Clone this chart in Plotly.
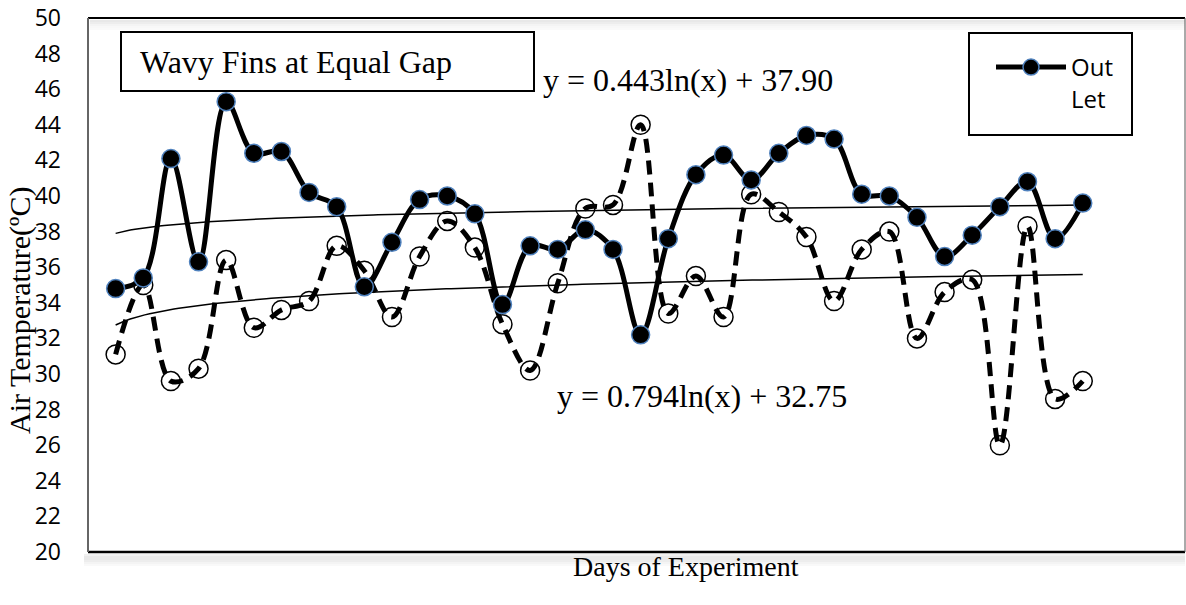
import numpy as np
import plotly.graph_objects as go

days = list(range(1, 37))
outlet = [34.8, 35.4, 42.1, 36.3, 45.3, 42.4, 42.5, 40.2, 39.4, 34.9, 37.4, 39.8,
          40.0, 39.0, 33.9, 37.2, 37.0, 38.1, 37.0, 32.2, 37.6, 41.2, 42.3, 40.9,
          42.4, 43.4, 43.2, 40.1, 40.0, 38.8, 36.6, 37.8, 39.4, 40.8, 37.6, 39.6]
inlet = [31.1, 35.0, 29.6, 30.3, 36.4, 32.6, 33.6, 34.1, 37.2, 35.8, 33.2, 36.6,
         38.6, 37.1, 32.8, 30.2, 35.1, 39.3, 39.5, 44.0, 33.4, 35.5, 33.2, 40.1,
         39.1, 37.7, 34.1, 37.0, 38.0, 32.0, 34.6, 35.3, 26.0, 38.3, 28.6, 29.6]
y_ticks = list(range(20, 51, 2))

# trendline coefficients shown on the chart
trend_out = (0.443, 37.90)
trend_in = (0.794, 32.75)

W, H = 1186, 605
L, R, T, B = 88, 1, 18, 53
pw, ph = W - L - R, H - T - B

def px2paper_x(px):
    return (px - L) / pw

def px2paper_y(py):
    return (H - B - py) / ph

fig = go.Figure()

xt = np.linspace(1, 36, 200)
for a, b in (trend_out, trend_in):
    fig.add_trace(go.Scatter(x=xt, y=a * np.log(xt) + b, mode="lines",
                             line=dict(color="black", width=1.5),
                             showlegend=False, hoverinfo="skip"))

fig.add_trace(go.Scatter(
    x=days, y=inlet, mode="lines+markers", name="In Let", showlegend=False,
    line=dict(color="black", width=5, dash="14px,8px", shape="spline", smoothing=1),
    marker=dict(symbol="circle-open", size=19, color="black", line=dict(width=1.5, color="black")),
))
fig.add_trace(go.Scatter(
    x=days, y=outlet, mode="lines+markers", name="Out<br>Let",
    line=dict(color="black", width=5, shape="spline", smoothing=1),
    marker=dict(symbol="circle", size=18, color="black", line=dict(width=1.5, color="#4f81bd")),
))

shapes = []
for i, op in enumerate([0.10, 0.16, 0.16, 0.12, 0.08, 0.04]):
    shapes.append(dict(type="rect", xref="paper", yref="paper",
                       x0=px2paper_x(L - 4), x1=1.0,
                       y0=px2paper_y(554 + 2 * i + 2), y1=px2paper_y(554 + 2 * i),
                       fillcolor=f"rgba(110,110,110,{op})", line=dict(width=0), layer="below"))
for i, op in enumerate([0.16, 0.12, 0.08, 0.05, 0.03]):
    shapes.append(dict(type="rect", xref="paper", yref="paper",
                       x0=px2paper_x(L + 2), x1=1.0,
                       y0=px2paper_y(20 + 2 * i + 2), y1=px2paper_y(20 + 2 * i),
                       fillcolor=f"rgba(110,110,110,{op})", line=dict(width=0), layer="below"))
shapes.append(dict(type="line", xref="paper", yref="paper", x0=0, x1=1, y0=1, y1=1,
                   line=dict(color="black", width=2)))
shapes.append(dict(type="line", xref="paper", yref="paper", x0=0, x1=1, y0=0, y1=0,
                   line=dict(color="black", width=2.5)))
shapes.append(dict(type="line", xref="paper", yref="paper", x0=0, x1=0, y0=0, y1=1,
                   line=dict(color="#666666", width=2)))
shapes.append(dict(type="line", xref="paper", yref="paper", x0=1, x1=1, y0=0, y1=1,
                   line=dict(color="#555555", width=1)))
# legend frame
shapes.append(dict(type="rect", xref="paper", yref="paper",
                   x0=px2paper_x(969), x1=px2paper_x(1132),
                   y0=px2paper_y(135), y1=px2paper_y(33),
                   line=dict(color="black", width=2), fillcolor="white", layer="above"))

serif = "Liberation Serif, Times New Roman, serif"
annotations = [
    dict(text="&nbsp;&nbsp;Wavy Fins at Equal Gap", xref="paper", yref="paper",
         x=px2paper_x(120), y=px2paper_y(31), xanchor="left", yanchor="top",
         showarrow=False, align="left", width=407, height=53, borderpad=2,
         bordercolor="black", borderwidth=2, bgcolor="white",
         font=dict(family=serif, size=32, color="black")),
    dict(text="y = 0.443ln(x) + 37.90", xref="paper", yref="paper",
         x=px2paper_x(541), y=px2paper_y(80), xanchor="left", yanchor="middle",
         showarrow=False, font=dict(family=serif, size=32, color="black")),
    dict(text="y = 0.794ln(x) + 32.75", xref="paper", yref="paper",
         x=px2paper_x(555), y=px2paper_y(396), xanchor="left", yanchor="middle",
         showarrow=False, font=dict(family=serif, size=32, color="black")),
    dict(text="Air Temperature(ºC)", xref="paper", yref="paper",
         x=px2paper_x(20), y=px2paper_y(311), xanchor="center", yanchor="middle",
         textangle=-90, showarrow=False, font=dict(family=serif, size=30, color="black")),
    dict(text="Days of Experiment", xref="paper", yref="paper",
         x=px2paper_x(686), y=px2paper_y(566), xanchor="center", yanchor="middle",
         showarrow=False, font=dict(family=serif, size=28, color="black")),
]

fig.update_layout(
    width=W, height=H,
    margin=dict(l=L, r=R, t=T, b=B),
    paper_bgcolor="white", plot_bgcolor="white",
    shapes=shapes, annotations=annotations,
    showlegend=True,
    legend=dict(x=px2paper_x(991), y=px2paper_y(45), xanchor="left", yanchor="top",
                borderwidth=0, bgcolor="rgba(0,0,0,0)", valign="top",
                itemwidth=70, font=dict(family="Open Sans, sans-serif", size=24, color="black"),
                tracegroupgap=0),
    xaxis=dict(range=[0, 39.7], showgrid=False, zeroline=False, showticklabels=False,
               showline=False, ticks=""),
    yaxis=dict(range=[20, 50], tickvals=y_ticks, showgrid=False, zeroline=False,
               showline=False, ticks="", ticklabelstandoff=26,
               tickfont=dict(family="Open Sans, sans-serif", size=23, color="black")),
)

fig.write_html("out.html")
